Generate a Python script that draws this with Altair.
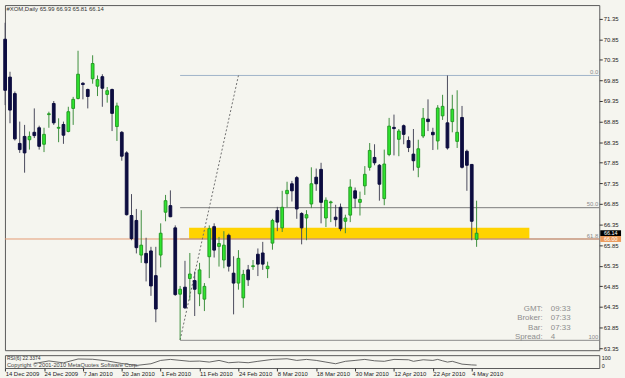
import altair as alt
import pandas as pd

# ---------------- data ----------------
opens = [70.85, 69.93, 69.53, 68.32, 68.49, 68.41, 68.59, 68.70, 68.30, 69.02,
         69.29, 68.69, 68.78, 68.61, 69.17, 69.41, 69.78, 69.63, 69.89, 69.71,
         69.94, 69.51, 69.63, 68.73, 68.59, 68.09, 66.57, 66.45, 65.61, 65.65,
         65.71, 65.11, 65.61, 66.65, 66.81, 66.27, 64.66, 64.83, 65.04, 64.99,
         64.67, 64.54, 65.57, 66.30, 65.82, 65.49, 66.09, 65.17, 64.93, 64.57,
         65.25, 65.33, 65.63, 65.66, 65.28, 65.90, 66.69, 66.27, 67.10, 67.34,
         67.49, 66.62, 66.51, 66.85, 67.50, 67.69, 66.51, 66.88, 66.53, 66.77,
         66.43, 66.58, 67.17, 66.89, 67.29, 67.74, 67.98, 67.79, 66.98, 68.05,
         68.71, 68.42, 68.75, 68.39, 68.06, 67.74, 68.50, 68.91, 68.59, 68.38,
         68.99, 68.82, 68.85, 68.37, 68.95, 68.13, 67.81, 65.99]
highs = [71.25, 70.06, 69.58, 68.85, 68.77, 68.61, 69.17, 68.75, 68.70, 69.09,
         69.35, 68.93, 68.85, 69.21, 69.45, 70.57, 69.81, 69.65, 70.46, 69.97,
         70.00, 69.69, 69.65, 69.31, 68.62, 68.13, 67.09, 66.73, 66.70, 66.03,
         65.81, 65.81, 66.38, 67.07, 67.18, 66.33, 64.86, 65.47, 65.66, 65.21,
         65.42, 64.93, 66.33, 66.38, 66.05, 66.19, 66.13, 65.58, 65.73, 65.25,
         65.37, 65.49, 65.77, 65.93, 65.45, 66.49, 66.78, 67.17, 67.39, 67.41,
         67.53, 66.65, 66.70, 67.74, 67.71, 67.85, 67.01, 66.93, 66.83, 66.86,
         66.59, 67.45, 67.25, 67.15, 67.77, 68.33, 68.30, 67.82, 68.17, 68.94,
         69.02, 68.67, 68.78, 68.49, 68.67, 68.41, 69.18, 69.39, 68.70, 69.25,
         69.50, 69.97, 69.50, 69.61, 69.23, 68.17, 67.82, 66.93]
lows = [69.25, 68.81, 68.39, 68.09, 67.61, 68.17, 68.45, 68.17, 68.11, 68.70,
        68.77, 68.35, 68.31, 68.59, 68.77, 69.39, 69.39, 69.17, 69.77, 69.47,
        69.21, 69.31, 68.62, 68.38, 67.90, 66.57, 65.97, 65.65, 65.42, 64.97,
        64.62, 63.98, 65.31, 66.43, 66.53, 64.62, 63.55, 64.30, 64.51, 64.13,
        64.37, 64.25, 65.05, 65.55, 65.33, 65.29, 65.21, 64.17, 64.77, 64.33,
        64.86, 65.25, 65.10, 65.25, 65.05, 65.74, 66.19, 66.17, 66.77, 66.91,
        66.49, 65.87, 65.97, 66.75, 67.17, 66.38, 66.29, 66.41, 66.30, 66.19,
        66.14, 66.41, 66.75, 66.57, 67.07, 67.66, 67.79, 66.93, 66.82, 68.01,
        68.03, 68.01, 68.30, 68.11, 67.66, 67.50, 68.45, 68.62, 68.16, 68.17,
        68.89, 68.17, 68.59, 68.21, 67.71, 67.17, 65.97, 65.81]
closes = [69.61, 69.13, 68.43, 68.17, 68.09, 68.49, 68.51, 68.25, 68.54, 69.04,
          68.82, 68.71, 68.52, 69.09, 69.39, 70.00, 69.75, 69.46, 70.26, 69.87,
          69.66, 69.60, 69.05, 69.23, 68.01, 66.59, 66.01, 65.79, 65.85, 65.42,
          64.86, 64.30, 66.14, 66.93, 66.54, 64.65, 64.78, 64.33, 65.15, 64.78,
          65.25, 64.85, 66.25, 65.73, 65.89, 65.85, 65.34, 64.93, 65.53, 65.14,
          65.01, 65.35, 65.39, 65.39, 65.34, 66.45, 66.41, 66.77, 67.18, 67.17,
          66.73, 66.27, 66.59, 67.34, 67.34, 66.89, 66.94, 66.90, 66.47, 66.25,
          66.51, 67.26, 66.99, 66.96, 67.57, 68.15, 67.85, 67.33, 67.82, 68.74,
          68.68, 68.62, 68.54, 68.22, 67.90, 68.19, 68.93, 68.85, 68.53, 69.18,
          69.22, 68.21, 69.15, 68.59, 67.74, 67.79, 66.43, 66.14]

date_label_bars = [0, 8, 16, 24, 32, 40, 48, 56, 64, 72, 80, 88, 96]
date_labels = ["14 Dec 2009", "24 Dec 2009", "7 Jan 2010", "20 Jan 2010",
               "1 Feb 2010", "11 Feb 2010", "24 Feb 2010", "8 Mar 2010",
               "18 Mar 2010", "30 Mar 2010", "12 Apr 2010", "22 Apr 2010",
               "4 May 2010"]

price_ticks = [63.35, 63.85, 64.35, 64.85, 65.35, 65.85, 66.35, 66.85, 67.35,
               67.85, 68.35, 68.85, 69.35, 69.85, 70.35, 70.85, 71.35]

fib_levels = [69.97, 66.76, 66.00, 63.54]
fib_names = ["0.0", "50.0", "61.8", "100"]
fib_line_colors = ["#9FB3C8", "#7C7C7C", "#8A8A8A", "#8A8A8A"]
fib_start_bar = [36, 36, 36, 36]

trend_bars = [36, 48]
trend_prices = [63.55, 69.97]

zone_bars = [37.85, 107.85]
zone_prices = [66.00, 66.27]

hline_price = [66.00]
axis_box_prices = [66.14, 66.00]
axis_box_texts = ["66.14", "66.00"]
axis_box_colors = ["#000000", "#EC9A5A"]

rsi_bars = [6, 9, 12, 15, 18, 21, 24, 27, 30, 32, 34, 38, 40, 42, 44, 46, 48,
            50, 52, 55, 58, 60, 62, 64, 66, 68, 70, 72, 74, 76, 78, 80, 83, 84,
            86, 88, 89, 90, 91, 92, 94, 96, 97]
rsi_vals = [35, 55, 40, 70, 68, 55, 35, 20, 33, 59, 67, 52, 54, 46, 59, 41, 46,
            41, 52, 67, 72, 59, 67, 59, 46, 33, 52, 59, 67, 56, 52, 67, 64, 52,
            64, 59, 67, 56, 46, 52, 30, 24, 22.3]

header_text = "#XOM,Daily 65.99 66.93 65.81 66.14"
rsi_text = "RSI(6) 22.3374"
copyright_text = "Copyright \u00a9 2001-2010 MetaQuotes Software Corp."
info_keys = ["GMT:", "Broker:", "Bar:", "Spread:"]
info_vals = ["09:33", "07:33", "07:33", "4"]

# ---------------- tables ----------------
candles = pd.DataFrame({"i": list(range(len(opens))), "open": opens,
                        "high": highs, "low": lows, "close": closes})
fib = pd.DataFrame({"start": fib_start_bar, "level": fib_levels,
                    "name": fib_names, "color": fib_line_colors})
trend = pd.DataFrame({"i": trend_bars, "p": trend_prices})
zone = pd.DataFrame({"x1": [zone_bars[0]], "x2": [zone_bars[1]],
                     "y1": [zone_prices[0]], "y2": [zone_prices[1]]})
hline = pd.DataFrame({"p": hline_price})
boxes = pd.DataFrame({"p": axis_box_prices, "t": axis_box_texts,
                      "c": axis_box_colors})
rsi = pd.DataFrame({"i": rsi_bars, "v": rsi_vals})

FONT = "Liberation Sans"
W = 601
x_scale = alt.Scale(domain=[-0.04, 122.24], nice=False, zero=False)
y_scale = alt.Scale(domain=[63.30, 71.679], nice=False, zero=False)
y_axis = alt.Axis(orient="right", values=price_ticks, format=".2f", title=None,
                  grid=False, domain=False, tickSize=3, tickColor="#333333",
                  labelFontSize=6, labelColor="#222222", labelPadding=1,
                  labelFont=FONT, labelOverlap=False)


def X(f):
    return alt.X(f, type="quantitative", scale=x_scale, axis=None)


def Y(f):
    return alt.Y(f, type="quantitative", scale=y_scale, axis=y_axis)


bull = "datum.close >= datum.open"

zone_l = alt.Chart(zone).mark_rect(color="#FFD300").encode(
    x=X("x1"), x2="x2", y=Y("y1"), y2="y2")

fib_l = alt.Chart(fib).mark_rule(strokeWidth=1).encode(
    x=X("start"), x2=alt.value(W), y=Y("level"),
    color=alt.Color("color:N", scale=None))

hline_l = alt.Chart(hline).mark_rule(color="#E49B72", strokeWidth=1).encode(
    x=alt.value(0), x2=alt.value(W), y=Y("p"))

trend_l = alt.Chart(trend).mark_line(color="#6E6E6E", strokeDash=[2, 2],
                                     strokeWidth=1).encode(x=X("i"), y=Y("p"))

wick_l = alt.Chart(candles).mark_rule(strokeWidth=1).encode(
    x=X("i"), y=Y("low"), y2="high",
    color=alt.condition(bull, alt.value("#3E8F3E"), alt.value("#4A4A5C")))

body_l = alt.Chart(candles).transform_calculate(
    xl="datum.i - 0.28", xr="datum.i + 0.28").mark_rect(strokeWidth=1).encode(
    x=X("xl"), x2="xr", y=Y("open"), y2="close",
    fill=alt.condition(bull, alt.value("#2EE62E"), alt.value("#0D0D40")),
    stroke=alt.condition(bull, alt.value("#249A24"), alt.value("#0D0D40")))

fib_text_l = alt.Chart(fib).mark_text(
    align="right", baseline="bottom", dy=-0.5, fontSize=6, font=FONT,
    color="#8A8A8A").encode(x=alt.value(W - 1), y=Y("level"), text="name:N")

box_l = alt.Chart(boxes).mark_rule(strokeWidth=6, strokeCap="butt").encode(
    x=alt.value(W + 1), x2=alt.value(W + 22), y=Y("p"),
    color=alt.Color("c:N", scale=None))
box_text_l = alt.Chart(boxes).mark_text(
    align="center", baseline="middle", fontSize=5.5, font=FONT,
    color="white").encode(x=alt.value(W + 11.5), y=Y("p"), text="t:N")

header_l = alt.Chart(hline).mark_text(
    align="left", baseline="middle", fontSize=6, font=FONT,
    color="#333333").encode(x=alt.value(1.5), y=alt.value(4.5),
                            text=alt.value(header_text))

info_k_l = alt.Chart(hline).mark_text(
    align="right", baseline="top", fontSize=8, font=FONT, lineBreak="\n",
    lineHeight=9.33, color="#8E8E8E").encode(
    x=alt.value(543.7), y=alt.value(303.5), text=alt.value("\n".join(info_keys)))
info_v_l = alt.Chart(hline).mark_text(
    align="left", baseline="top", fontSize=8, font=FONT, lineBreak="\n",
    lineHeight=9.33, color="#8E8E8E").encode(
    x=alt.value(552), y=alt.value(303.5), text=alt.value("\n".join(info_vals)))

main = alt.layer(zone_l, fib_l, hline_l, trend_l, wick_l, body_l, fib_text_l,
                 box_l, box_text_l, header_l, info_k_l, info_v_l).properties(
    width=W, height=349)

# ---------------- RSI sub-window ----------------
lab_js = "[" + ",".join("'" + s + "'" for s in date_labels) + "]"
x_axis = alt.Axis(values=date_label_bars, labelExpr=lab_js + "[round(datum.value / 8)]",
                  labelAlign="left", labelBaseline="top", tickSize=3,
                  tickColor="#333333", domain=False, grid=False, title=None,
                  labelFontSize=6, labelFont=FONT, labelColor="#222222",
                  labelPadding=0, labelFlush=False, labelOverlap=False)
rsi_y = alt.Axis(orient="right", values=[0, 100], title=None, grid=False,
                 domain=False, ticks=False, labelFlush=True, labelFontSize=5.5,
                 labelFont=FONT, labelColor="#222222", labelPadding=2)

rsi_line = alt.Chart(rsi).mark_line(color="#555555", strokeWidth=0.9).encode(
    x=alt.X("i:Q", scale=x_scale, axis=x_axis),
    y=alt.Y("v:Q", scale=alt.Scale(domain=[0, 100], nice=False), axis=rsi_y))
rsi_lab = alt.Chart(hline).mark_text(
    align="left", baseline="middle", fontSize=5, font=FONT,
    color="#333333").encode(x=alt.value(2), y=alt.value(2.8),
                            text=alt.value(rsi_text))
copy_lab = alt.Chart(hline).mark_text(
    align="left", baseline="middle", fontSize=5.8, font=FONT,
    color="#444444").encode(x=alt.value(2), y=alt.value(9.6),
                            text=alt.value(copyright_text))

sub = alt.layer(rsi_line, rsi_lab, copy_lab).properties(width=W, height=13)

chart = alt.vconcat(main, sub, spacing=2).properties(
    padding={"left": 2, "top": 2, "right": 0, "bottom": 0},
    background="#F5F5EF",
).configure_view(stroke="#5A5A5A", strokeWidth=1)

chart.save("out.html", embed_options={"renderer": "svg", "actions": False})
